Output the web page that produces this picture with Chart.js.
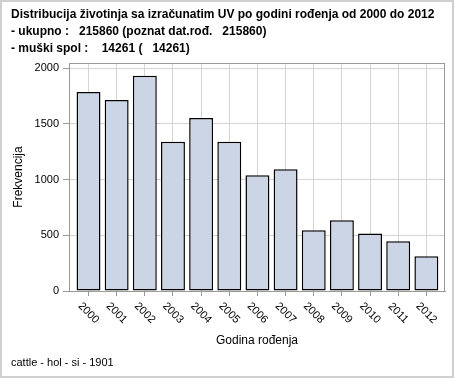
<!DOCTYPE html>
<html lang="hr">
  <head>
    <meta charset="UTF-8" />
    <title>Distribucija životinja po godini rođenja</title>
    <script src="https://cdn.jsdelivr.net/npm/chart.js@4"></script>
    <style>
      html, body { margin: 0; padding: 0; background: #fff; }
      #wrap { width: 454px; height: 378px; }
    </style>
  </head>
  <body>
    <div id="wrap"><canvas id="myChart" width="454" height="378"></canvas></div>
    <script>
      // data
      const years = [2000, 2001, 2002, 2003, 2004, 2005, 2006, 2007, 2008, 2009, 2010, 2011, 2012];
      const counts = [1785, 1713, 1931, 1338, 1551, 1338, 1039, 1093, 545, 635, 515, 446, 312];
      const yTicks = [0, 500, 1000, 1500, 2000];
      const titleLines = [
        'Distribucija životinja sa izračunatim UV po godini rođenja od 2000 do 2012',
        '- ukupno :   215860 (poznat dat.rođ.   215860)',
        '- muški spol :    14261 (   14261)'
      ];
      const footnote = 'cattle - hol - si - 1901';

      const font = "Arial, 'Liberation Sans', sans-serif";
      const gridColor = '#d4d4d4';
      const axisColor = '#999';

      // frame, rotated year labels and footnote
      const extras = {
        id: 'extras',
        beforeDraw(chart) {
          const c = chart.ctx;
          c.save();
          c.fillStyle = '#fff';
          c.fillRect(0, 0, chart.width, chart.height);
          c.strokeStyle = '#d0d0d0';
          c.lineWidth = 2;
          c.strokeRect(1, 1, chart.width - 2, chart.height - 2);
          c.restore();
        },
        afterDraw(chart) {
          const c = chart.ctx;
          const a = chart.chartArea;
          const xs = chart.scales.x;
          c.save();
          c.strokeStyle = axisColor;
          c.lineWidth = 1;
          c.strokeRect(Math.round(a.left) + 0.5, Math.round(a.top) + 0.5,
                       Math.round(a.right - a.left) - 1, Math.round(a.bottom - a.top));
          c.fillStyle = '#000';
          c.font = '11px ' + font;
          c.textAlign = 'center';
          c.textBaseline = 'middle';
          years.forEach(y => {
            c.save();
            c.translate(xs.getPixelForValue(y), a.bottom + 22);
            c.rotate(Math.PI / 4);
            c.fillText(String(y), 0, 0);
            c.restore();
          });
          c.textAlign = 'left';
          c.fillText(footnote, 11, 363);
          c.restore();
        }
      };

      const ctx = document.getElementById('myChart').getContext('2d');
      const myChart = new Chart(ctx, {
        type: 'bar',
        data: {
          datasets: [
            {
              data: years.map((y, i) => ({ x: y, y: counts[i] })),
              backgroundColor: 'rgb(203, 213, 230)',
              borderColor: '#000',
              borderWidth: 1.5,
              borderSkipped: false,
              barPercentage: 0.85,
              categoryPercentage: 1
            }
          ]
        },
        options: {
          responsive: false,
          animation: false,
          layout: { padding: { left: 11, right: 9, top: 0, bottom: 0 } },
          plugins: {
            legend: { display: false },
            tooltip: { enabled: false },
            title: {
              display: true,
              text: titleLines,
              align: 'start',
              color: '#000',
              font: { family: font, size: 12, weight: 'bold', lineHeight: 17 / 12 },
              padding: { top: 6, bottom: 6 }
            }
          },
          scales: {
            x: {
              type: 'linear',
              offset: false,
              min: 1999.307,
              max: 2012.662,
              afterFit(scale) { scale.height = 87; },
              afterBuildTicks(scale) { scale.ticks = years.map(v => ({ value: v })); },
              ticks: { display: false },
              grid: { offset: false, color: gridColor, tickColor: axisColor, tickLength: 5 },
              border: { color: axisColor },
              title: {
                display: true,
                text: 'Godina rođenja',
                color: '#000',
                font: { family: font, size: 12 },
                padding: { top: 0, bottom: 30 }
              }
            },
            y: {
              min: 0,
              max: 2045,
              afterFit(scale) { scale.width = 58; },
              afterBuildTicks(scale) { scale.ticks = yTicks.map(v => ({ value: v })); },
              ticks: {
                color: '#000',
                padding: 4,
                font: { family: font, size: 11 },
                callback: v => String(v)
              },
              grid: { color: gridColor, tickColor: axisColor, tickLength: 6 },
              border: { color: axisColor },
              title: {
                display: true,
                text: 'Frekvencija',
                color: '#000',
                font: { family: font, size: 12 },
                padding: { top: 0, bottom: 0 }
              }
            }
          }
        },
        plugins: [extras]
      });
    </script>
  </body>
</html>
